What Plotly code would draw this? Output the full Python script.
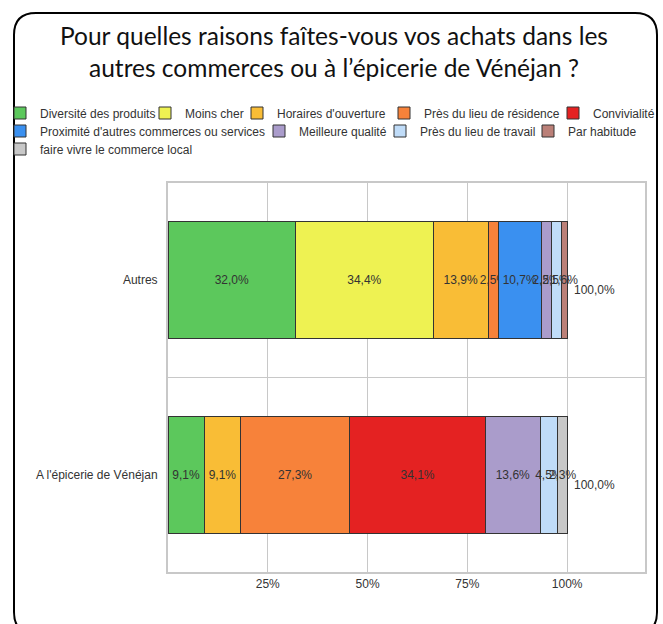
import plotly.graph_objects as go

categories = ["Autres", "A l'épicerie de Vénéjan"]

reasons = [
    "Diversité des produits",
    "Moins cher",
    "Horaires d'ouverture",
    "Près du lieu de résidence",
    "Convivialité",
    "Proximité d'autres commerces ou services",
    "Meilleure qualité",
    "Près du lieu de travail",
    "Par habitude",
    "faire vivre le commerce local",
]

# share of answers (%) per reason: [Autres, épicerie]
diversite = [32.0, 9.1]
moins_cher = [34.4, None]
horaires = [13.9, 9.1]
residence = [2.5, 27.3]
convivialite = [None, 34.1]
proximite = [10.7, None]
qualite = [2.5, 13.6]
travail = [2.5, 4.5]
habitude = [1.6, None]
commerce_local = [None, 2.3]

totals = [100.0, 100.0]

series = [diversite, moins_cher, horaires, residence, convivialite,
          proximite, qualite, travail, habitude, commerce_local]

colors = ["#5cc85c", "#eef252", "#f9bd36", "#f7823a", "#e42222",
          "#3a90f0", "#aa9ccb", "#c0dcf8", "#bb8078", "#c8c8c8"]

# legend layout (pixels): row of each entry and where its text starts
legend_row_y = [113, 131, 149]
legend_rows = [0, 0, 0, 0, 0, 1, 1, 1, 1, 2]
legend_text_x = [38, 184, 276, 423, 592, 38, 298, 419, 567, 38]

W, H = 663, 624
L, R, T, B = 168, 18, 183, 52
PW, PH = W - L - R, H - T - B
FONT = "Liberation Sans, Arial"


def px(x):
    return (x - L) / PW


def py(y):
    return (T + PH - y) / PH


fig = go.Figure()
legends = {}
for i, (name, values, color) in enumerate(zip(reasons, series, colors)):
    key = "legend" if i == 0 else f"legend{i + 1}"
    fig.add_trace(go.Bar(
        name=name,
        y=categories,
        x=values,
        orientation="h",
        legend=key,
        marker=dict(color=color, line=dict(color="#333333", width=1)),
        texttemplate="%{x:.1f}%",
        textposition="inside",
        insidetextanchor="middle",
        textangle=0,
        textfont=dict(family=FONT, size=12, color="#333333"),
        width=0.6,
        hoverinfo="x+name",
    ))
    legends[key] = dict(
        xref="container", yref="container",
        x=(legend_text_x[i] - 39) / W, xanchor="left",
        y=1 - legend_row_y[legend_rows[i]] / H, yanchor="middle",
        orientation="h",
        bgcolor="rgba(0,0,0,0)",
        font=dict(family=FONT, size=12, color="#333333"),
        itemwidth=30,
    )

for cat, total in zip(categories, totals):
    fig.add_annotation(
        x=total, y=cat, text=f"{total:.1f}%".replace(".", ","),
        xanchor="left", yanchor="middle", xshift=5, yshift=-10,
        showarrow=False,
        font=dict(family=FONT, size=12, color="#333333"),
    )

# rounded frame around the whole picture
x0, x1, y0, y1, r = px(14), px(657), py(13), py(634), 22 / PW
ry = 22 / PH
path = (
    f"M {x0} {y0 - ry} L {x0} {y1 + ry} Q {x0} {y1} {x0 + r} {y1} "
    f"L {x1 - r} {y1} Q {x1} {y1} {x1} {y1 + ry} "
    f"L {x1} {y0 - ry} Q {x1} {y0} {x1 - r} {y0} "
    f"L {x0 + r} {y0} Q {x0} {y0} {x0} {y0 - ry} Z"
)
fig.add_shape(type="path", path=path, xref="paper", yref="paper",
              line=dict(color="black", width=2))

# divider between the two categories
fig.add_shape(type="line", xref="paper", yref="paper", x0=0, x1=1, y0=0.5, y1=0.5,
              line=dict(color="#c8c8c8", width=1), layer="below")

fig.add_annotation(
    x=px(334), xref="paper", y=py(52), yref="paper", xanchor="center", yanchor="middle",
    text="Pour quelles raisons faîtes-vous vos achats dans les<br>"
         "autres commerces ou à l’épicerie de Vénéjan ?",
    showarrow=False, align="center",
    font=dict(family="Lato", size=24.5, color="#111111"),
)

fig.update_layout(
    width=W, height=H,
    margin=dict(l=L, r=R, t=T, b=B),
    barmode="stack",
    separators=", ",
    paper_bgcolor="white",
    plot_bgcolor="white",
    showlegend=True,
    uniformtext=dict(minsize=12, mode="show"),
    xaxis=dict(
        range=[0, 119.5],
        tickvals=[25, 50, 75, 100],
        ticktext=["25%", "50%", "75%", "100%"],
        showgrid=True, gridcolor="#c8c8c8", gridwidth=1,
        showline=True, mirror=True, linecolor="#c8c8c8", linewidth=2,
        zeroline=False, ticks="",
        tickfont=dict(family=FONT, size=12, color="#333333"),
        fixedrange=True,
    ),
    yaxis=dict(
        categoryorder="array",
        categoryarray=categories[::-1],
        showgrid=False,
        showline=True, mirror=True, linecolor="#c8c8c8", linewidth=2,
        ticks="", ticklabelstandoff=6,
        tickfont=dict(family=FONT, size=12, color="#333333"),
        fixedrange=True,
    ),
    **legends,
)

fig.write_html(
    "out.html",
    config={"displayModeBar": False},
    post_script="document.body.style.margin = '0';",
)
